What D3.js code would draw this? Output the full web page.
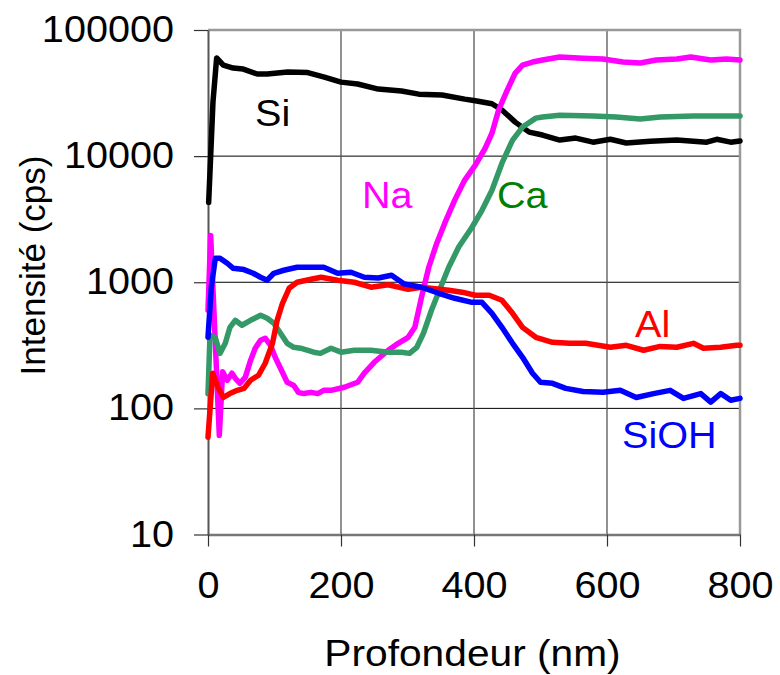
<!DOCTYPE html>
<html>
<head>
<meta charset="utf-8">
<script src="https://cdn.jsdelivr.net/npm/d3@7"></script>
<style>
  body { margin: 0; background: #fff; }
  text { font-family: "Liberation Sans", Arial, sans-serif; }
</style>
</head>
<body>
<div id="chart"></div>
<script>
// depth (nm), intensity (cps)
var siData = [[1,4300],[4,10000],[7.5,27000],[13,60000],[23,52700],[38,49900],[53,49000],[74,44800],[89,44800],[120,46400],[150,46000],[175,42300],[200,38600],[225,37300],[256,34000],[291,32800],[317,31000],[352,30500],[386,28300],[402,27500],[427,26000],[442,23200],[462,18600],[483,15500],[503,14700],[529,13400],[553,13900],[579,12900],[605,13600],[629,12700],[665,13100],[705,13400],[750,12900],[765,13600],[786,12900],[800,13200]];

var naData = [[0,600],[4,2350],[17,61],[22,195],[29,167],[36,190],[41,173],[48,158],[56,176],[64,240],[71,300],[79,347],[86,360],[94,316],[101,254],[109,208],[119,161],[129,152],[136,134],[144,131],[155,134],[165,131],[174,139],[185,139],[205,147],[225,161],[235,190],[250,232],[271,289],[286,328],[301,366],[311,439],[321,760],[332,1315],[344,2040],[356,2940],[371,4480],[386,6460],[402,8490],[417,11600],[427,15200],[437,23200],[450,33400],[462,45600],[473,52700],[488,55700],[503,57800],[529,61100],[564,59700],[594,58800],[624,55700],[650,54800],[674,57800],[705,58800],[726,61100],[756,57800],[780,58800],[800,57800]];

var caData = [[0,131],[3,380],[11,363],[18,273],[26,328],[33,439],[41,499],[51,456],[64,499],[79,547],[89,518],[99,473],[109,394],[119,328],[129,305],[139,300],[149,289],[159,279],[169,273],[185,300],[200,279],[220,289],[245,289],[271,279],[291,279],[303,273],[314,305],[324,394],[336,600],[348,865],[362,1315],[377,1900],[397,2730],[412,3720],[427,5370],[442,8790],[458,13400],[473,17000],[493,20000],[503,20400],[529,21100],[579,20800],[614,20400],[650,19700],[680,20400],[730,20800],[800,20800]];

var alData = [[0,59],[7,190],[15,147],[23,122],[33,131],[44,139],[54,144],[64,167],[76,183],[86,228],[97,328],[104,499],[112,681],[122,896],[134,1000],[155,1057],[170,1096],[195,1038],[220,1000],[245,913],[271,955],[301,880],[321,913],[362,865],[382,834],[402,788],[423,788],[442,720],[458,567],[473,439],[493,366],[518,334],[544,328],[568,328],[605,305],[629,316],[655,289],[680,310],[705,305],[730,328],[745,300],[771,305],[795,316],[800,316]];

var siohData = [[0,366],[5,913],[11,1550],[18,1550],[29,1415],[38,1290],[54,1260],[68,1178],[79,1096],[89,1038],[99,1178],[114,1245],[134,1315],[155,1315],[174,1315],[195,1178],[215,1200],[235,1096],[256,1080],[276,1137],[295,970],[321,913],[347,818],[371,746],[397,693],[412,693],[427,567],[442,439],[458,328],[473,254],[488,190],[500,161],[518,158],[538,144],[564,136],[594,134],[620,139],[644,122],[670,131],[695,139],[715,120],[741,131],[756,112],[771,131],[786,116],[800,120]];

var xTicks = [0, 200, 400, 600, 800];
var yTicks = [10, 100, 1000, 10000, 100000];

var svgWidth = 780;
var svgHeight = 675;

var margin = { top: 30, right: 40, bottom: 140.5, left: 208 };
var width = svgWidth - margin.left - margin.right;
var height = svgHeight - margin.top - margin.bottom;

var svg = d3.select("#chart")
  .append("svg")
  .attr("width", svgWidth)
  .attr("height", svgHeight);

var chartGroup = svg.append("g")
  .attr("transform", `translate(${margin.left}, ${margin.top})`);

var xScale = d3.scaleLinear().domain([0, 800]).range([0, width]);
var yScale = d3.scaleLog().domain([10, 100000]).range([height, 0]);

// the original picture is a bit wider than tall, so stretch text sideways
function stretch(sel, k) {
  sel.each(function() {
    var len = this.getComputedTextLength();
    d3.select(this).attr("textLength", len * k).attr("lengthAdjust", "spacingAndGlyphs");
  });
}

// grid
chartGroup.append("g")
  .selectAll("line")
  .data(yTicks.slice(1, -1))
  .join("line")
  .attr("x1", 0).attr("x2", width)
  .attr("y1", d => yScale(d)).attr("y2", d => yScale(d))
  .attr("stroke", "#000").attr("stroke-width", 1);

chartGroup.append("g")
  .selectAll("line")
  .data(xTicks.slice(1, -1))
  .join("line")
  .attr("y1", 0).attr("y2", height)
  .attr("x1", d => xScale(d)).attr("x2", d => xScale(d))
  .attr("stroke", "#555").attr("stroke-width", 1.3);

// frame top / right
chartGroup.append("path")
  .attr("d", `M0,0H${width}V${height}`)
  .attr("fill", "none")
  .attr("stroke", "#999")
  .attr("stroke-width", 2.5);

// axes
var xAxis = chartGroup.append("g")
  .attr("transform", `translate(0, ${height})`)
  .call(d3.axisBottom(xScale).tickValues(xTicks).tickSize(12).tickSizeOuter(0).tickPadding(26));

var yAxis = chartGroup.append("g")
  .call(d3.axisLeft(yScale).tickValues(yTicks).tickFormat(d3.format("d")).tickSize(14).tickSizeOuter(0).tickPadding(20));

xAxis.select(".domain").attr("stroke", "#777").attr("stroke-width", 2.5);
yAxis.select(".domain").attr("stroke", "#555").attr("stroke-width", 2);
xAxis.selectAll(".tick line").attr("stroke", "#333").attr("stroke-width", 1.2);
yAxis.selectAll(".tick line").attr("stroke", "#333").attr("stroke-width", 1.2);

xAxis.selectAll("text")
  .attr("font-size", 36).attr("fill", "#000")
  .attr("font-family", "Liberation Sans, Arial, sans-serif")
  .call(stretch, 1.1);
yAxis.selectAll("text")
  .attr("font-size", 36).attr("fill", "#000")
  .attr("font-family", "Liberation Sans, Arial, sans-serif")
  .call(stretch, 1.1);

// lines
var line = d3.line()
  .x(d => xScale(d[0]))
  .y(d => yScale(d[1]));

var series = [
  { data: siData, color: "#000000" },
  { data: naData, color: "#ff00ff" },
  { data: caData, color: "#339966" },
  { data: alData, color: "#ff0000" },
  { data: siohData, color: "#0000ff" }
];

chartGroup.append("g")
  .selectAll("path")
  .data(series)
  .join("path")
  .attr("d", d => line(d.data))
  .attr("fill", "none")
  .attr("stroke", d => d.color)
  .attr("stroke-width", 5.5)
  .attr("stroke-linejoin", "round")
  .attr("stroke-linecap", "round");

// series labels
var labels = [
  { text: "Si", x: 255, y: 126, color: "#000000" },
  { text: "Na", x: 362, y: 208, color: "#ff00ff" },
  { text: "Ca", x: 497, y: 208, color: "#008000" },
  { text: "Al", x: 635, y: 337, color: "#ff0000" },
  { text: "SiOH", x: 622, y: 448, color: "#0000ff" }
];

svg.append("g")
  .selectAll("text")
  .data(labels)
  .join("text")
  .attr("x", d => d.x)
  .attr("y", d => d.y)
  .attr("fill", d => d.color)
  .attr("font-size", 36)
  .text(d => d.text)
  .call(stretch, 1.1);

// axis titles
svg.append("text")
  .attr("x", 472.5)
  .attr("y", 666)
  .attr("text-anchor", "middle")
  .attr("font-size", 37)
  .text("Profondeur (nm)")
  .call(stretch, 1.1);

svg.append("text")
  .attr("transform", "translate(45, 265.5) rotate(-90)")
  .attr("text-anchor", "middle")
  .attr("font-size", 35)
  .text("Intensité (cps)");
</script>
</body>
</html>
